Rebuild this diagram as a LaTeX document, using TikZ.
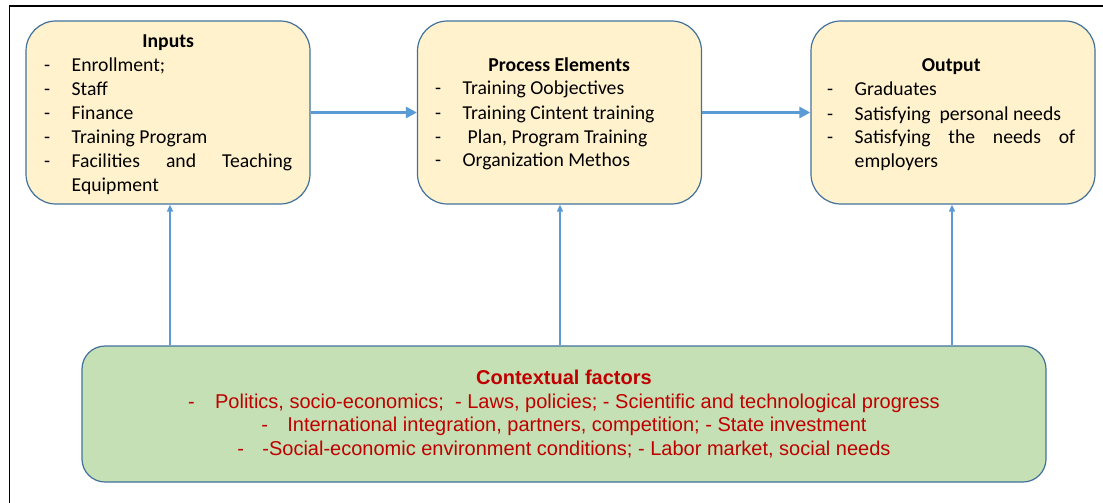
\documentclass[tikz,border=0pt]{standalone}
\usepackage{fontspec}
\setmainfont{Carlito}
\newfontfamily\ctxfont{Liberation Sans}
\usetikzlibrary{arrows.meta}
\definecolor{boxfill}{HTML}{FFF2CC}
\definecolor{boxline}{HTML}{41719C}
\definecolor{ctxfill}{HTML}{C5E0B4}
\definecolor{arrowblue}{HTML}{5B9BD5}
\definecolor{ctxred}{HTML}{C00000}
\newcommand\dashitem[1]{\par\noindent\hangindent=27.5pt\hangafter=1\makebox[27.5pt][l]{-}#1\par}
\newcommand\boxtitle[1]{\hyphenpenalty=10000\relax\exhyphenpenalty=10000\relax{\centering\bfseries #1\par}}
\tikzset{
  topbox/.style={draw=boxline, fill=boxfill, line width=1.2pt, rounded corners=30pt,
    minimum width=284pt, minimum height=183pt, inner sep=0pt},
  ctxbox/.style={draw=boxline, fill=ctxfill, line width=1.2pt, rounded corners=23pt,
    minimum width=964pt, minimum height=136pt, inner sep=0pt},
  boxtext/.style={text width=248pt, align=justify, inner sep=0pt,
    font=\fontsize{19.7}{24}\selectfont},
  ctxtext/.style={align=center, inner sep=0pt, text=ctxred,
    font=\ctxfont\fontsize{20}{23.5}\selectfont},
  flowarrow/.style={draw=arrowblue, line width=3pt, -{Triangle[length=11pt,width=11pt]}},
  ctxarrow/.style={draw=arrowblue, line width=1.5pt, -{Triangle[length=7pt,width=6pt]}},
}
\begin{document}
\begin{tikzpicture}[x=1pt,y=1pt]
\useasboundingbox (0,0) rectangle (1103,-503);
% frame
\draw[black, line width=1.2pt] (9.5,-503) -- (9.5,-6) -- (1103,-6);
% boxes
\node[topbox] (inputs) at (168,-112.5) {};
\node[topbox] (process) at (559.5,-112.5) {};
\node[topbox] (output) at (953,-112.5) {};
\node[ctxbox] (context) at (564,-414) {};
% texts
\node[boxtext, anchor=base west] (intext) at (44,-48) {%
\boxtitle{Inputs}
\dashitem{Enrollment;}
\dashitem{Staff}
\dashitem{Finance}
\dashitem{Training Program}
\dashitem{Facilities and Teaching Equipment}};
\node[boxtext, anchor=base west] (proctext) at (435,-71) {%
\boxtitle{Process Elements}
\dashitem{Training Oobjectives}
\dashitem{Training Cintent training}
\dashitem{\hspace{5pt}Plan, Program Training}
\dashitem{Organization Methos}};
\node[boxtext, anchor=base west] (outtext) at (827,-72) {%
\boxtitle{Output}
\dashitem{Graduates}
\dashitem{Satisfying\ \ personal needs}
\dashitem{Satisfying the needs of employers}};
\node[ctxtext, anchor=base] (ctxtext) at (564,-455) {%
\textbf{Contextual factors}\\
-\hspace{20.3pt}Politics, socio-economics;\ \ - Laws, policies; - Scientific and technological progress\\
-\hspace{19.3pt}International integration, partners, competition; - State investment\\
-\hspace{18.3pt}-Social-economic environment conditions; - Labor market, social needs};
% connectors
\draw[flowarrow] (inputs.east) -- (process.west);
\draw[flowarrow] (process.east) -- (output.west);
\draw[ctxarrow] ([xshift=2pt]inputs.south |- context.north) -- ([xshift=2pt]inputs.south);
\draw[ctxarrow] ([xshift=0.5pt]process.south |- context.north) -- ([xshift=0.5pt]process.south);
\draw[ctxarrow] ([xshift=-1pt]output.south |- context.north) -- ([xshift=-1pt]output.south);
\end{tikzpicture}
\end{document}
